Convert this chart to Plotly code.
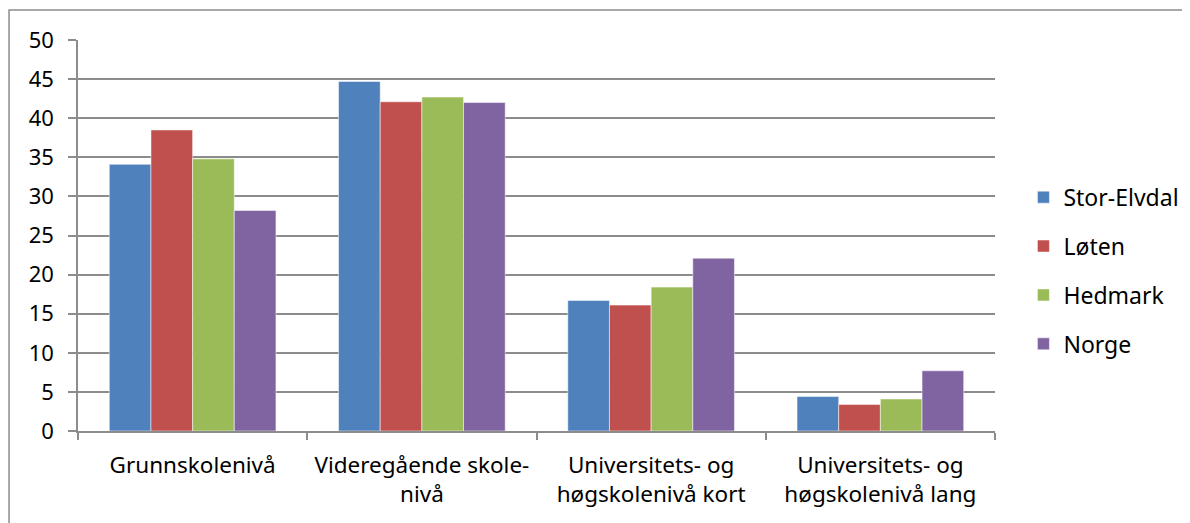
import plotly.graph_objects as go

categories = [
    "Grunnskolenivå",
    "Videregående skole-<br>nivå",
    "Universitets- og<br>høgskolenivå kort",
    "Universitets- og<br>høgskolenivå lang",
]
stor_elvdal = [34.1, 44.7, 16.7, 4.4]
loten = [38.5, 42.1, 16.1, 3.4]
hedmark = [34.8, 42.7, 18.4, 4.1]
norge = [28.2, 42.0, 22.1, 7.7]

series = [
    ("Stor-Elvdal", stor_elvdal, "#4F81BD"),
    ("Løten", loten, "#C0504D"),
    ("Hedmark", hedmark, "#9BBB59"),
    ("Norge", norge, "#8064A2"),
]

fig = go.Figure()
for name, values, color in series:
    fig.add_trace(
        go.Bar(
            name=name,
            x=categories,
            y=values,
            marker=dict(color=color, line=dict(color="rgba(255,255,255,0.5)", width=1)),
            legendgroup=name,
        )
    )

font_family = "Noto Sans, DejaVu Sans, sans-serif"
# the page body adds an 8px margin, so the figure is 8px smaller than the window
fig.update_layout(
    barmode="group",
    bargap=0.273,
    bargroupgap=0,
    width=1182,
    height=515,
    margin=dict(l=70, r=195, t=32, b=92, autoexpand=False),
    paper_bgcolor="white",
    plot_bgcolor="white",
    font=dict(family=font_family, size=22, color="black"),
    legend=dict(
        x=1.031,
        y=0.41,
        xanchor="left",
        yanchor="middle",
        font=dict(size=23),
        tracegroupgap=16,
        itemwidth=30,
    ),
    xaxis=dict(
        showline=True,
        linecolor="#8C8C8C",
        linewidth=1.5,
        ticks="outside",
        tickson="boundaries",
        ticklen=7,
        tickcolor="#8C8C8C",
        tickwidth=1.5,
        tickfont=dict(size=22.5),
        ticklabelstandoff=13,
        showgrid=False,
    ),
    yaxis=dict(
        range=[0, 50],
        dtick=5,
        showline=True,
        linecolor="#8C8C8C",
        linewidth=1.5,
        ticks="outside",
        ticklen=8,
        tickcolor="#8C8C8C",
        tickwidth=1.5,
        showgrid=True,
        gridcolor="#8C8C8C",
        gridwidth=1.5,
        tickfont=dict(size=22),
        ticklabelstandoff=10,
        zeroline=False,
    ),
)

# chart area border
fig.add_shape(
    type="rect",
    xref="paper",
    yref="paper",
    x0=-0.0752,
    x1=1.5,
    y0=-0.5,
    y1=1.0767,
    line=dict(color="#8C8C8C", width=1.5),
    fillcolor="rgba(0,0,0,0)",
    layer="below",
)

fig.write_html("out.html")
